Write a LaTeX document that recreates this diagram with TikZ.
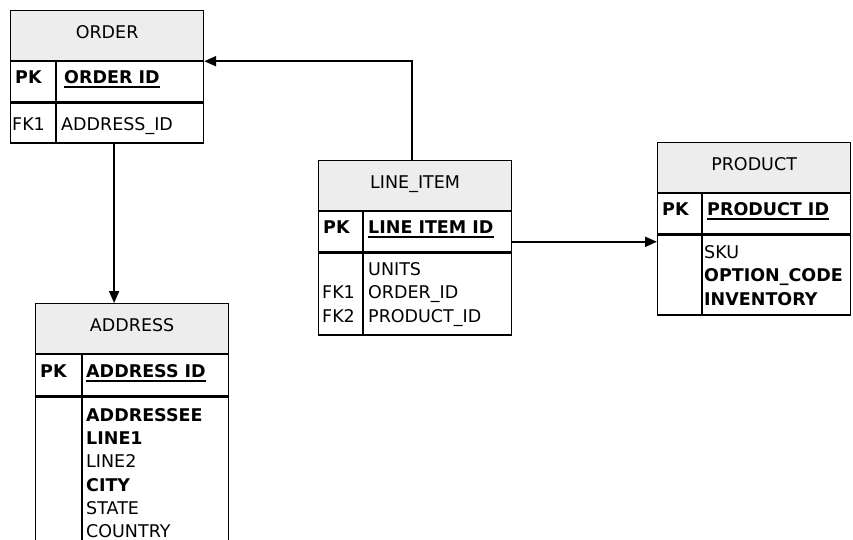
\documentclass[tikz,border=0pt]{standalone}
\usepackage{fontspec}
\setmainfont{DejaVu Sans}
\usetikzlibrary{arrows.meta,positioning}
\definecolor{hdrgray}{RGB}{237,237,237}
\newcommand{\tblfont}{\fontsize{17.5}{23}\selectfont}

\tikzset{
  tblbox/.style={draw,line width=1.2pt,anchor=north west,inner sep=0pt,minimum width=193pt},
  tblhdr/.style={tblbox,fill=hdrgray,minimum height=50pt,text height=13pt,text depth=7pt,font=\tblfont},
  tblrow/.style={tblbox,minimum height=#1},
  txt/.style={anchor=base west,inner sep=0pt,font=\tblfont},
  bftxt/.style={txt,font=\tblfont\bfseries},
  uline/.style={line width=1.8pt},
  link/.style={line width=2pt,-{Triangle[length=12pt,width=10pt]}}
}

\begin{document}
\begin{tikzpicture}[x=1pt,y=-1pt]
\useasboundingbox (0,0) rectangle (853,540);

% ORDER
\node[tblhdr] (orderh) at (10,10) {ORDER};
\node[tblrow=40pt] (orderpk) at (orderh.south west) {};
\node[tblrow=40pt] (orderb) at (orderpk.south west) {};
\draw[line width=1.2pt] ([xshift=46pt]orderpk.north west) -- ([xshift=46pt]orderb.south west);
\node[bftxt] (orderpkk) at ([xshift=5pt,yshift=-22pt]orderpk.north west) {PK};
\node[bftxt] (orderpkn) at ([xshift=54pt,yshift=-22pt]orderpk.north west) {ORDER ID};
\draw[uline] ([yshift=-4pt]orderpkn.base west) -- ([yshift=-4pt]orderpkn.base east);
\node[txt] (orderfk) at ([xshift=2pt,yshift=-28pt]orderb.north west) {FK1};
\node[txt] (orderl0) at ([xshift=51pt,yshift=-28pt]orderb.north west) {ADDRESS\_ID};

% LINE_ITEM
\node[tblhdr] (lineh) at (318,160) {LINE\_ITEM};
\node[tblrow=40pt] (linepk) at (lineh.south west) {};
\node[tblrow=82pt] (lineb) at (linepk.south west) {};
\draw[line width=1.2pt] ([xshift=45pt]linepk.north west) -- ([xshift=45pt]lineb.south west);
\node[bftxt] (linepkk) at ([xshift=5pt,yshift=-22pt]linepk.north west) {PK};
\node[bftxt] (linepkn) at ([xshift=50pt,yshift=-22pt]linepk.north west) {LINE ITEM ID};
\draw[uline] ([yshift=-4pt]linepkn.base west) -- ([yshift=-4pt]linepkn.base east);
\foreach \t [count=\i from 0] in {UNITS,ORDER\_ID,PRODUCT\_ID}
  \node[txt] (linel\i) at ([xshift=50pt,yshift={-(23+23.5*\i)*1pt}]lineb.north west) {\t};
\node[txt] (linefk1) at ([xshift=4pt]lineb.west |- linel1.base) {FK1};
\node[txt] (linefk2) at ([xshift=4pt]lineb.west |- linel2.base) {FK2};

% PRODUCT
\node[tblhdr] (prodh) at (657,142) {PRODUCT};
\node[tblrow=40pt] (prodpk) at (prodh.south west) {};
\node[tblrow=80pt] (prodb) at (prodpk.south west) {};
\draw[line width=1.2pt] ([xshift=45pt]prodpk.north west) -- ([xshift=45pt]prodb.south west);
\node[bftxt] (prodpkk) at ([xshift=5pt,yshift=-22pt]prodpk.north west) {PK};
\node[bftxt] (prodpkn) at ([xshift=50pt,yshift=-22pt]prodpk.north west) {PRODUCT ID};
\draw[uline] ([yshift=-4pt]prodpkn.base west) -- ([yshift=-4pt]prodpkn.base east);
\foreach \t [count=\i from 0] in {SKU,\textbf{OPTION\_CODE},\textbf{INVENTORY}}
  \node[txt] (prodl\i) at ([xshift=47pt,yshift={-(24+23.5*\i)*1pt}]prodb.north west) {\t};

% ADDRESS
\node[tblhdr] (addrh) at (35,303) {ADDRESS};
\node[tblrow=41pt] (addrpk) at (addrh.south west) {};
\node[tblrow=170pt] (addrb) at (addrpk.south west) {};
\draw[line width=1.2pt] ([xshift=47pt]addrpk.north west) -- ([xshift=47pt]addrb.south west);
\node[bftxt] (addrpkk) at ([xshift=5pt,yshift=-23pt]addrpk.north west) {PK};
\node[bftxt] (addrpkn) at ([xshift=51pt,yshift=-23pt]addrpk.north west) {ADDRESS ID};
\draw[uline] ([yshift=-4pt]addrpkn.base west) -- ([yshift=-4pt]addrpkn.base east);
\foreach \t [count=\i from 0] in {\textbf{ADDRESSEE},\textbf{LINE1},LINE2,\textbf{CITY},STATE,COUNTRY}
  \node[txt] (addrl\i) at ([xshift=51pt,yshift={-(25+23.2*\i)*1pt}]addrb.north west) {\t};

% links
\draw[link] ([xshift=7pt]orderb.south) -- ([xshift=7pt]orderb.south |- addrh.north);
\draw[link] ([xshift=-3.5pt]lineh.north) |- (orderh.south east);
\draw[link] ([yshift=-10pt]linepk.east) -- ([yshift=-10pt]linepk.east -| prodb.west);
\end{tikzpicture}
\end{document}
